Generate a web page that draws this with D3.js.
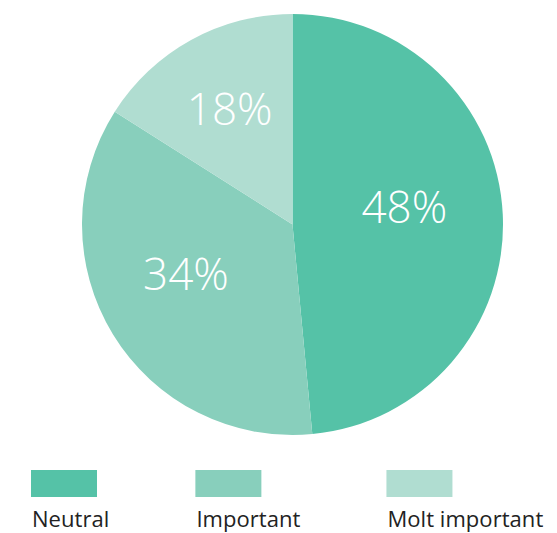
<!DOCTYPE html>
<html><head><meta charset="utf-8">
<script src="https://cdn.jsdelivr.net/npm/d3@7"></script>
<style>body{margin:0;background:#fff}svg{display:block}</style>
</head><body>
<svg id="c" width="557" height="533"></svg>
<script>
const categories = ["Neutral", "Important", "Molt important"];
const values = [48.5, 35.5, 16];
const labels = ["48%", "34%", "18%"];
const colors = ["#55c2a7", "#88cfbc", "#b0ddd1"];

const svg = d3.select("#c");
const cx = 292.5, cy = 224.5, r = 210.5;
const g = svg.append("g").attr("transform", `translate(${cx},${cy})`);
const pie = d3.pie().sort(null).value(d => d)(values);
const arc = d3.arc().innerRadius(0).outerRadius(r);
const labelArc = d3.arc().innerRadius(118).outerRadius(118);
g.selectAll("path").data(pie).join("path")
  .attr("d", arc).attr("fill", (d, i) => colors[i]);
g.selectAll("text").data(pie).join("text")
  .attr("x", d => labelArc.centroid(d)[0] - 6)
  .attr("y", d => labelArc.centroid(d)[1] + 4)
  .attr("text-anchor", "middle")
  .attr("fill", "#fff")
  .style("font-family", "'Open Sans', sans-serif")
  .style("font-weight", 300)
  .style("font-size", "44px")
  .text((d, i) => labels[i]);

const leg = svg.append("g");
const items = leg.selectAll("g").data(categories).join("g");
items.append("rect").attr("y", 470).attr("width", 66).attr("height", 27)
  .attr("fill", (d, i) => colors[i]);
items.append("text").attr("x", 1).attr("y", 527)
  .attr("fill", "#222")
  .style("font-family", "'Open Sans', sans-serif")
  .style("font-size", "22px")
  .style("letter-spacing", "0.05px")
  .text(d => d);
let x = 31;
items.each(function () {
  d3.select(this).attr("transform", `translate(${x},0)`);
  x += this.querySelector("text").getComputedTextLength() + 87;
});
</script>
</body></html>
